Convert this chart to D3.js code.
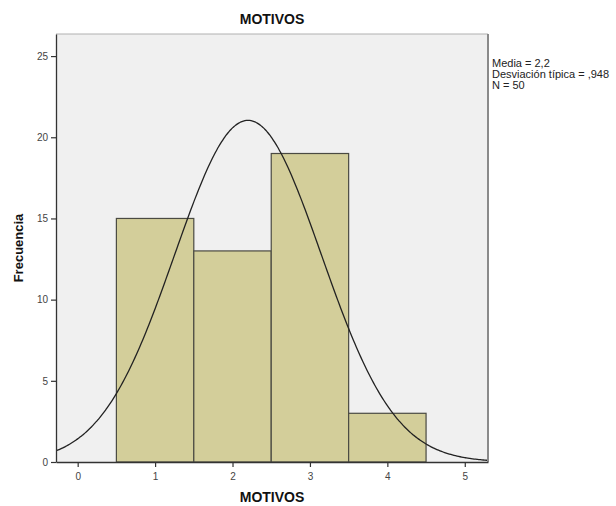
<!DOCTYPE html>
<html><head><meta charset="utf-8">
<script src="https://cdn.jsdelivr.net/npm/d3@7"></script>
<style>body{margin:0;background:#fff}svg{display:block}</style>
</head><body>
<svg id="c" width="616" height="506"></svg>
<script>
const binStarts = [0.5, 1.5, 2.5, 3.5];
const binEnds   = [1.5, 2.5, 3.5, 4.5];
const counts    = [15, 13, 19, 3];
const xTicks    = [0, 1, 2, 3, 4, 5];
const yTicks    = [0, 5, 10, 15, 20, 25];
const stats     = {mean: 2.2, sd: 0.948, n: 50, binWidth: 1};
const legendLines = ["Media = 2,2", "Desviación típica = ,948", "N = 50"];

const svg = d3.select("#c");
const L = 56, R = 488, T = 34, B = 462;
const x = d3.scaleLinear().domain([-0.28, 5.30]).range([L, R]);
const y = d3.scaleLinear().domain([0, 26.36]).range([B, T]);

svg.append("rect").attr("x", L).attr("y", T).attr("width", R - L).attr("height", B - T)
  .attr("fill", "#f0f0f0");

const g = svg.append("g");
g.selectAll("rect.bar").data(counts).join("rect").attr("class", "bar")
  .attr("x", (d, i) => x(binStarts[i]))
  .attr("width", (d, i) => x(binEnds[i]) - x(binStarts[i]))
  .attr("y", d => y(d))
  .attr("height", d => y(0) - y(d))
  .attr("fill", "#d3ce9a").attr("stroke", "#4a4a42").attr("stroke-width", 1.2);

// normal curve from mean/sd
const pdf = v => stats.n * stats.binWidth / (stats.sd * Math.sqrt(2 * Math.PI)) *
  Math.exp(-0.5 * Math.pow((v - stats.mean) / stats.sd, 2));
const xs = d3.range(x.domain()[0], x.domain()[1] + 0.001, 0.02);
svg.append("clipPath").attr("id", "clip").append("rect")
  .attr("x", L).attr("y", T).attr("width", R - L).attr("height", B - T);
g.append("path").datum(xs)
  .attr("d", d3.line().x(v => x(v)).y(v => y(pdf(v))).curve(d3.curveBasis))
  .attr("fill", "none").attr("stroke", "#222").attr("stroke-width", 1.3)
  .attr("clip-path", "url(#clip)");

// frame
svg.append("line").attr("x1", L).attr("x2", R).attr("y1", T).attr("y2", T).attr("stroke", "#b0b0b0");
svg.append("line").attr("x1", R).attr("x2", R).attr("y1", T).attr("y2", B).attr("stroke", "#8a8a8a").attr("stroke-width", 2);

// axes
const yAxis = svg.append("g").attr("transform", `translate(${L},0)`)
  .call(d3.axisLeft(y).tickValues(yTicks).tickFormat(d3.format("d")).tickSize(5).tickSizeOuter(0));
const xAxis = svg.append("g").attr("transform", `translate(0,${B})`)
  .call(d3.axisBottom(x).tickValues(xTicks).tickFormat(d3.format("d")).tickSize(5).tickSizeOuter(0));
[yAxis, xAxis].forEach(a => {
  a.select(".domain").attr("stroke", "#333").attr("stroke-width", 1.3);
  a.selectAll(".tick line").attr("stroke", "#333").attr("stroke-width", 1.2);
  a.selectAll(".tick text").attr("fill", "#444").attr("font-size", 10)
    .attr("font-family", "Liberation Sans, Arial, sans-serif");
});
xAxis.selectAll(".tick text").attr("dy", "0.95em");

// titles
svg.append("text").attr("x", 272).attr("y", 24).attr("text-anchor", "middle")
  .attr("font-family", "Liberation Sans, Arial, sans-serif").attr("font-weight", "bold")
  .attr("font-size", 14).attr("fill", "#111").text("MOTIVOS");
svg.append("text").attr("x", 272).attr("y", 502).attr("text-anchor", "middle")
  .attr("font-family", "Liberation Sans, Arial, sans-serif").attr("font-weight", "bold")
  .attr("font-size", 14).attr("fill", "#111").text("MOTIVOS");
svg.append("text").attr("transform", "translate(23,248) rotate(-90)").attr("text-anchor", "middle")
  .attr("font-family", "Liberation Sans, Arial, sans-serif").attr("font-weight", "bold")
  .attr("font-size", 13).attr("fill", "#111").text("Frecuencia");

// legend
svg.append("g").selectAll("text").data(legendLines).join("text")
  .attr("x", 492).attr("y", (d, i) => 67 + i * 11)
  .attr("font-family", "Liberation Sans Narrow, Arial Narrow, Liberation Sans, sans-serif")
  .attr("font-size", 11).attr("fill", "#222").text(d => d);
</script>
</body></html>
